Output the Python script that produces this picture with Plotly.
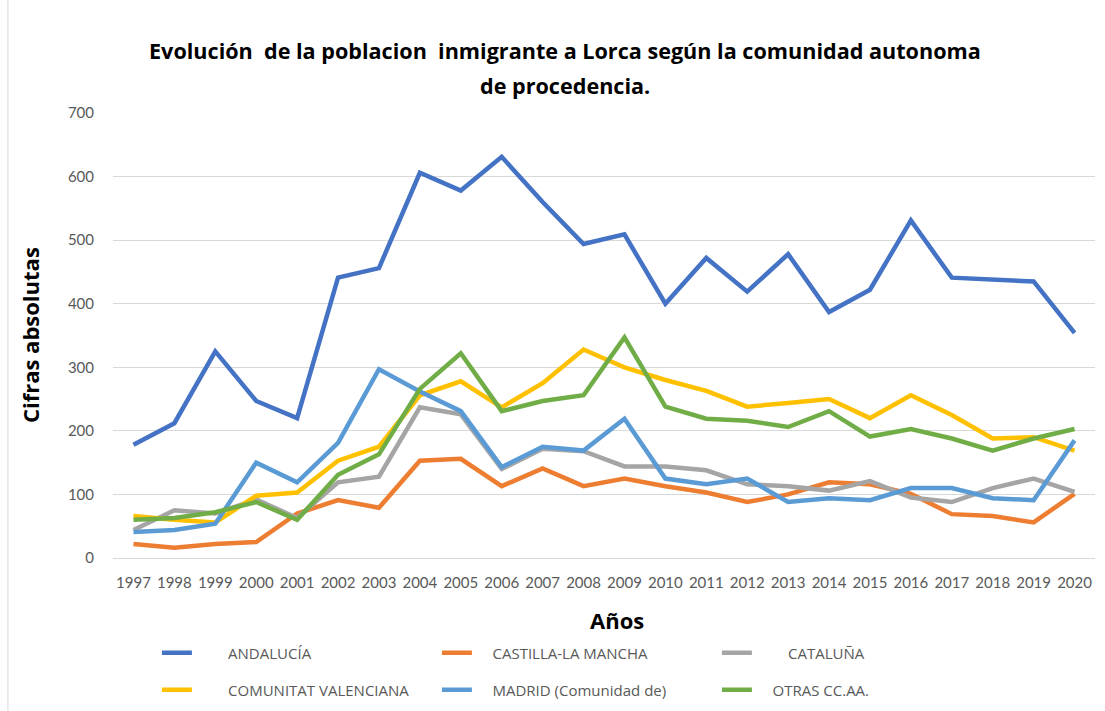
import plotly.graph_objects as go

# Datos
anios = [str(a) for a in range(1997, 2021)]

andalucia = [178, 212, 325, 247, 220, 441, 456, 606, 578, 631, 560, 494,
             509, 400, 472, 419, 478, 387, 422, 531, 441, 438, 435, 354]
castilla = [22, 16, 22, 25, 70, 91, 79, 153, 156, 113, 141, 113,
            125, 113, 103, 88, 100, 119, 116, 101, 69, 66, 56, 101]
cataluna = [44, 75, 70, 92, 63, 119, 128, 237, 226, 140, 172, 168,
            144, 144, 138, 116, 113, 106, 121, 95, 88, 110, 125, 104]
valenciana = [66, 60, 56, 98, 103, 153, 175, 256, 278, 237, 275, 328,
              300, 280, 263, 238, 244, 250, 220, 256, 225, 188, 190, 169]
madrid = [41, 44, 54, 150, 119, 181, 297, 262, 231, 143, 175, 169,
          219, 125, 116, 125, 88, 94, 91, 110, 110, 94, 91, 185]
otras = [60, 63, 72, 88, 60, 131, 163, 266, 322, 231, 247, 256,
         347, 238, 219, 216, 206, 231, 191, 203, 188, 169, 188, 203]

# nombre, valores, color, leyenda (fila), espacios antes del texto
series = [
    ("ANDALUCÍA", andalucia, "#4472C4", "legend", 8),
    ("CASTILLA-LA MANCHA", castilla, "#ED7D31", "legend", 4),
    (" CATALUÑA", cataluna, "#A5A5A5", "legend", 7),
    ("COMUNITAT VALENCIANA", valenciana, "#FFC000", "legend2", 8),
    ("MADRID (Comunidad de)", madrid, "#5B9BD5", "legend2", 4),
    ("OTRAS CC.AA.", otras, "#70AD47", "legend2", 4),
]

gris = "#595959"
fuente = "Lato"
negrita = "Open Sans"

fig = go.Figure()
for nombre, valores, color, ley, pad in series:
    fig.add_trace(go.Scatter(
        x=anios, y=valores, mode="lines", name="\u00a0" * pad + nombre,
        line=dict(color=color, width=4.5), legend=ley,
    ))

leyenda = dict(
    orientation="h", entrywidth=235, entrywidthmode="pixels",
    font=dict(family="Open Sans", size=15, color=gris),
    bgcolor="rgba(0,0,0,0)", xref="container", yref="container",
    xanchor="left", yanchor="middle", x=0.142,
)

def texto(t, x, y, size, **kw):
    return dict(text=f"<b>{t}</b>", xref="paper", yref="paper", x=x, y=y,
                xanchor="center", yanchor="middle", showarrow=False,
                font=dict(family=negrita, size=size, color="black"), **kw)

fig.update_layout(
    width=1105, height=711,
    margin=dict(l=113, r=10, t=113, b=153),
    paper_bgcolor="white", plot_bgcolor="white",
    font=dict(family=fuente, color=gris),
    xaxis=dict(
        type="category", range=[-0.5, 23.5], showgrid=False, showline=False,
        ticks="", tickfont=dict(size=15, color=gris), ticklabelstandoff=14,
        automargin=False,
    ),
    yaxis=dict(
        range=[0, 700], dtick=100, showgrid=True, gridcolor="#D9D9D9",
        gridwidth=1, zeroline=True, zerolinecolor="#D9D9D9", zerolinewidth=1,
        showline=False, ticks="", tickfont=dict(size=15, color=gris),
        ticklabelstandoff=18, automargin=False,
    ),
    legend=dict(leyenda, y=1 - 653 / 711),
    legend2=dict(leyenda, y=1 - 690 / 711),
    annotations=[
        texto("Evolución  de la poblacion  inmigrante a Lorca según la comunidad autonoma",
              0.46, (558 - 50) / 445, 21.6),
        texto("de procedencia.", 0.46, (558 - 85) / 445, 21.6),
        texto("Cifras absolutas", -0.0845, 0.501, 22, textangle=-90),
        texto("Años", 0.513, -0.139, 22),
    ],
    shapes=[
        dict(type="line", xref="paper", yref="paper", x0=-0.107, x1=-0.107,
             y0=-0.35, y1=1.26, line=dict(color="#D9D9D9", width=1)),
    ],
    showlegend=True,
)

fig.write_html("out.html", config={"displayModeBar": False},
               post_script="document.body.style.margin='0';")
